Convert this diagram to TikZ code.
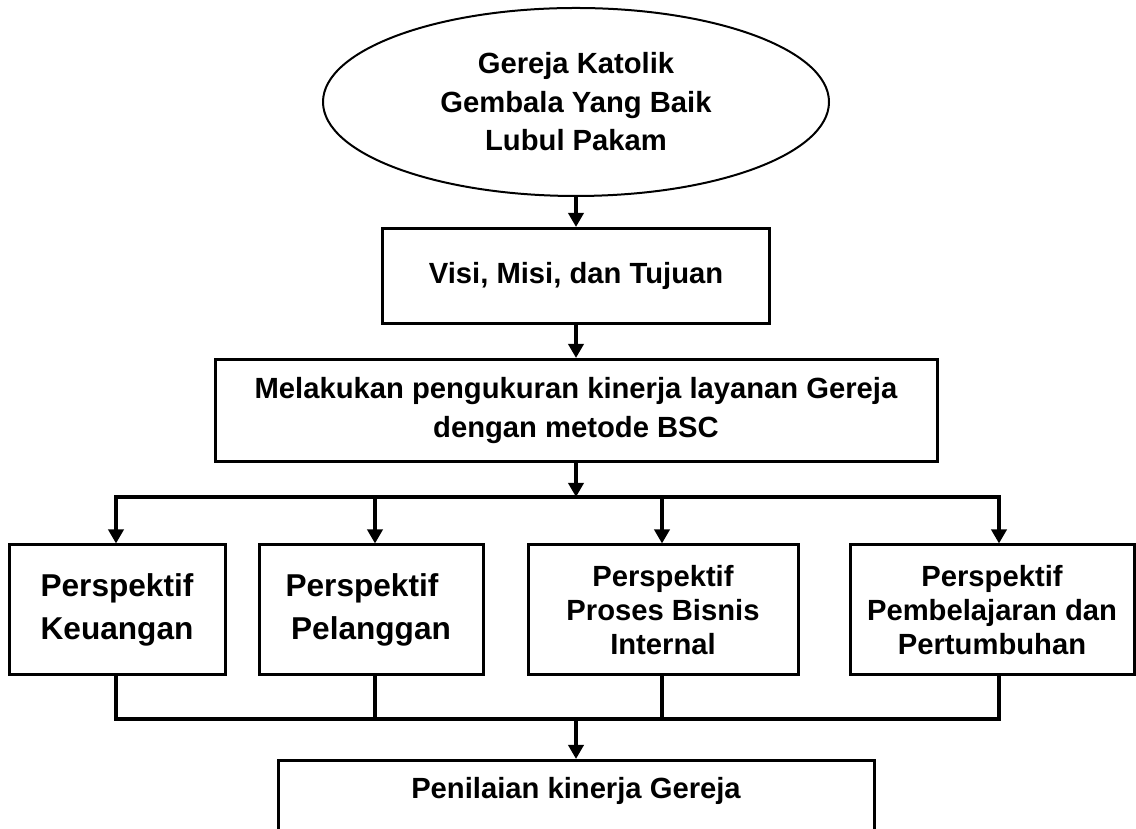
\documentclass[tikz,border=0pt]{standalone}
\usepackage{fontspec}
\setmainfont{Liberation Sans}
\usetikzlibrary{arrows.meta}
\usetikzlibrary{positioning}
\usetikzlibrary{shapes.geometric}

\begin{document}
\begin{tikzpicture}[
      x=0.5pt, y=0.5pt,
      church/.style ={draw, line width=1pt, ellipse, minimum width=253pt, minimum height=94pt, inner sep=0pt, align=center, font=\bfseries\fontsize{14.6}{19.25}\selectfont},
      block/.style ={rectangle, draw, line width=1.5pt, align=center, inner sep=0pt, font=\bfseries\fontsize{14.6}{19.5}\selectfont},
      persp/.style ={block, minimum height=65pt, font=\bfseries\fontsize{14.6}{17}\selectfont},
      perspbig/.style ={persp, font=\bfseries\fontsize{15.8}{21.5}\selectfont},
      link/.style ={line width=2pt, line cap=rect},
      arrow/.style ={line width=2pt, -{Triangle[width=7.5pt,length=7pt]}},
      node distance=15pt
    ]
    \clip (0,0) rectangle (1136,829);
    \node [church] (gereja) at (576,727) {Gereja Katolik\\Gembala Yang Baik\\Lubul Pakam} ;
    \node [block, minimum width=193.5pt, minimum height=47.5pt] (visi) [below=of gereja] {Visi, Misi, dan Tujuan} ;
    \node [block, minimum width=361pt, minimum height=51pt] (bsc) [below=16.5pt of visi] {Melakukan pengukuran kinerja layanan Gereja\\dengan metode BSC} ;

    \node [perspbig, minimum width=108pt] (keu) at (117,219) {Perspektif\\Keuangan} ;
    \node [perspbig, minimum width=112pt] (pel) at (371,219) {Perspektif\hspace*{9pt}\\Pelanggan} ;
    \node [persp, minimum width=135pt] (pbi) at (663,219) {Perspektif\\Proses Bisnis\\Internal} ;
    \node [persp, minimum width=142pt] (ppp) at (992,219) {Perspektif\\Pembelajaran dan\\Pertumbuhan} ;

    \node [block, minimum width=298pt, anchor=north, text height=19.25pt, text depth=60pt] (nilai) at (576,70) {Penilaian kinerja Gereja} ;

    % garis cabang
    \coordinate (splitL) at (116,332) ;
    \coordinate (splitR) at (999,332) ;
    \coordinate (joinL) at (116,110) ;
    \coordinate (joinR) at (999,110) ;

    \draw [arrow] (gereja) -- (visi) ;
    \draw [arrow] (visi) -- (bsc) ;
    \draw [arrow] (bsc) -- (bsc |- splitL) ;
    \draw [link] (splitL) -- (splitR) ;
    \draw [link] (joinL) -- (joinR) ;
    \foreach \x/\b in {116/keu, 375/pel, 662/pbi, 999/ppp} {
      \coordinate (s\b) at (\x,332) ;
      \draw [arrow] (s\b) -- (s\b |- \b.north) ;
      \draw [link] (s\b |- \b.south) -- (s\b |- joinL) ;
    }
    \draw [arrow] (nilai.north |- joinL) -- (nilai.north) ;
  \end{tikzpicture}
\end{document}
